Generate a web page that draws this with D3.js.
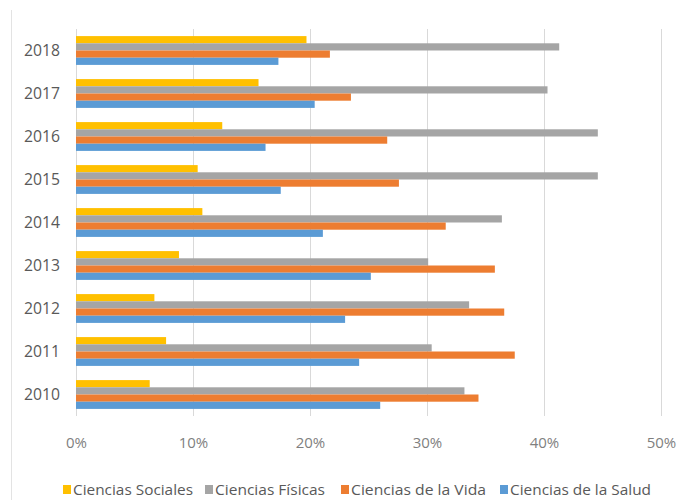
<!DOCTYPE html>
<html>
<head>
<meta charset="utf-8">
<script src="https://cdn.jsdelivr.net/npm/d3@7"></script>
<style>
  html, body { margin: 0; padding: 0; background: #fff; }
  svg { display: block; }
  text { font-family: "Open Sans", sans-serif; }
</style>
</head>
<body>
<svg id="chart" width="678" height="500"></svg>
<script>
const years = ["2018", "2017", "2016", "2015", "2014", "2013", "2012", "2011", "2010"];
const seriesNames = ["Ciencias Sociales", "Ciencias Físicas", "Ciencias de la Vida", "Ciencias de la Salud"];
const seriesColors = ["#FFC000", "#A5A5A5", "#ED7D31", "#5B9BD5"];
const sociales = [19.7, 15.6, 12.5, 10.4, 10.8, 8.8, 6.7, 7.7, 6.3];
const fisicas  = [41.3, 40.3, 44.6, 44.6, 36.4, 30.1, 33.6, 30.4, 33.2];
const vida     = [21.7, 23.5, 26.6, 27.6, 31.6, 35.8, 36.6, 37.5, 34.4];
const salud    = [17.3, 20.4, 16.2, 17.5, 21.1, 25.2, 23.0, 24.2, 26.0];
const xTicks = [0, 10, 20, 30, 40, 50];

const seriesValues = [sociales, fisicas, vida, salud];

const svg = d3.select("#chart");

// faint outer frame line on left
svg.append("line")
  .attr("x1", 11.5).attr("x2", 11.5).attr("y1", 10).attr("y2", 500)
  .attr("stroke", "#e3e3e3").attr("stroke-width", 1);

const x = d3.scaleLinear().domain([0, 50]).range([76, 661]);
const y = d3.scaleBand().domain(years).range([29, 416]).paddingInner(0.33).paddingOuter(0.165);
const ySub = d3.scaleBand().domain(d3.range(seriesNames.length)).range([0, y.bandwidth()]);

// gridlines
svg.append("g").selectAll("line").data(xTicks).join("line")
  .attr("x1", d => Math.round(x(d)) + 0.5).attr("x2", d => Math.round(x(d)) + 0.5)
  .attr("y1", 29).attr("y2", 416)
  .attr("stroke", "#d9d9d9").attr("stroke-width", 1);

// bars
const groups = svg.append("g").selectAll("g").data(years).join("g")
  .attr("transform", d => `translate(0,${y(d)})`);
groups.selectAll("rect")
  .data((yr, i) => seriesValues.map((vals, s) => ({ s, v: vals[i] })))
  .join("rect")
  .attr("x", x(0))
  .attr("y", d => ySub(d.s))
  .attr("width", d => x(d.v) - x(0))
  .attr("height", ySub.bandwidth())
  .attr("fill", d => seriesColors[d.s]);

// y axis labels
const yAxis = d3.axisLeft(y).tickSize(0).tickPadding(16);
const yg = svg.append("g").attr("transform", `translate(${x(0)},0)`).call(yAxis);
yg.select(".domain").remove();
yg.selectAll("text").attr("font-size", 16).attr("fill", "#595959")
  .attr("textLength", 36).attr("lengthAdjust", "spacingAndGlyphs")
  .style("font-family", '"Open Sans", sans-serif');

// x axis labels
const xAxis = d3.axisBottom(x).tickValues(xTicks).tickFormat(d => d + "%").tickSize(0).tickPadding(0);
const xg = svg.append("g").attr("transform", `translate(0,437)`).call(xAxis);
xg.select(".domain").remove();
xg.selectAll("text").attr("font-size", 15).attr("fill", "#7f7f7f").attr("dy", "0.35em").attr("y", 6)
  .style("font-family", '"Open Sans", sans-serif');

// legend
const legendX = [63, 205, 341, 500];
const legendW = [120, 110, 135, 141];
const lg = svg.append("g").selectAll("g").data(seriesNames).join("g")
  .attr("transform", (d, i) => `translate(${legendX[i]},490)`);
lg.append("rect").attr("x", 0).attr("y", -5).attr("width", 8).attr("height", 9)
  .attr("fill", (d, i) => seriesColors[i]);
lg.append("text").attr("x", 10).attr("y", 0).attr("dy", "0.35em")
  .attr("font-size", 15).attr("fill", "#595959")
  .attr("textLength", (d, i) => legendW[i]).attr("lengthAdjust", "spacingAndGlyphs")
  .text(d => d);
</script>
</body>
</html>
